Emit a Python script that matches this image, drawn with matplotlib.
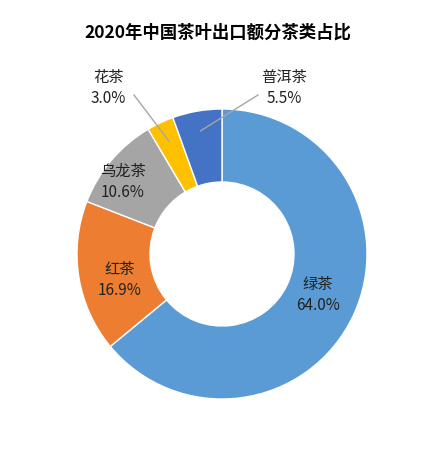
import numpy as np
import matplotlib.pyplot as plt

plt.rcParams['font.family'] = ['Noto Sans CJK SC', 'DejaVu Sans']

names = ['绿茶', '红茶', '乌龙茶', '花茶', '普洱茶']
shares = [64.0, 16.9, 10.6, 3.0, 5.5]
colors = ['#5B9BD5', '#ED7D31', '#A5A5A5', '#FFC000', '#4472C4']

fig = plt.figure(figsize=(4.35, 4.52), dpi=100)
ax = fig.add_axes([(222 - 150) / 435, (197 - 150) / 452, 300 / 435, 300 / 452])
R = 145
wedges, _ = ax.pie(shares, colors=colors, startangle=90, counterclock=False,
                   radius=R, wedgeprops=dict(width=73, edgecolor='white', linewidth=1))
ax.set_xlim(-150, 150)
ax.set_ylim(-150, 150)
ax.set_aspect('equal')
ax.axis('off')

# label positions in pixel offsets from centre (y up)
offsets = {'绿茶': (96, -40), '红茶': (-102, -25), '乌龙茶': (-99, 73),
           '花茶': (-114, 167), '普洱茶': (62, 167)}
for w, n, s in zip(wedges, names, shares):
    dx, dy = offsets[n]
    ax.text(dx, dy, f'{n}\n{s:.1f}%', ha='center', va='center', fontsize=11,
            color='#222222', linespacing=1.3, clip_on=False)
    if n in ('花茶', '普洱茶'):
        ang = np.deg2rad((w.theta1 + w.theta2) / 2)
        r = R - 20
        x0, y0 = r * np.cos(ang), r * np.sin(ang)
        lx = dx + (26 if n == '花茶' else -26)
        ax.plot([lx, x0], [dy - 8, y0], color='#A6A6A6', lw=1, clip_on=False)

fig.text(0.5, 1 - 33 / 452, '2020年中国茶叶出口额分茶类占比', ha='center', va='center',
         fontsize=12.5, fontweight='bold')
fig.savefig('out.png', dpi=100)
